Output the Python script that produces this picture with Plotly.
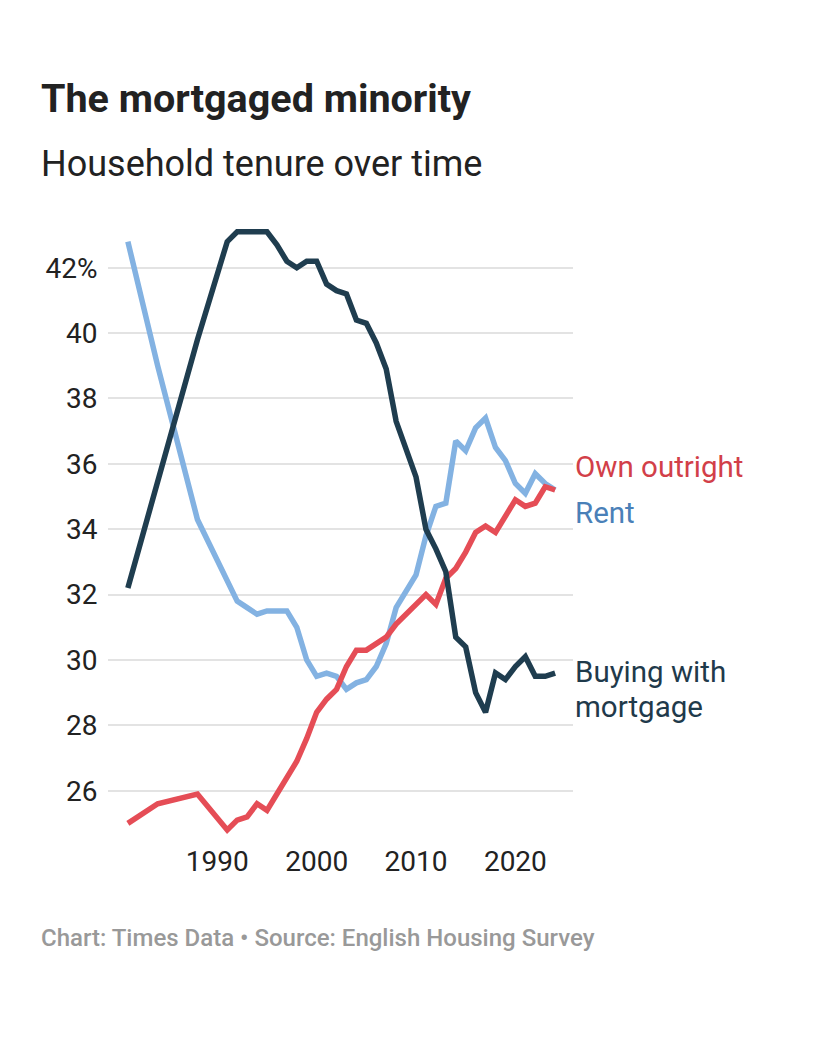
import plotly.graph_objects as go

years = [1981, 1984, 1988, 1991, 1992, 1993, 1994, 1995, 1996, 1997, 1998, 1999,
         2000, 2001, 2002, 2003, 2004, 2005, 2006, 2007, 2008, 2009, 2010, 2011,
         2012, 2013, 2014, 2015, 2016, 2017, 2018, 2019, 2020, 2021, 2022, 2023, 2024]

mortgage = [32.2, 35.4, 39.8, 42.8, 43.1, 43.1, 43.1, 43.1, 42.7, 42.2, 42.0, 42.2,
            42.2, 41.5, 41.3, 41.2, 40.4, 40.3, 39.7, 38.9, 37.3, 36.5, 35.6, 34.0,
            33.4, 32.7, 30.7, 30.4, 29.0, 28.4, 29.6, 29.4, 29.8, 30.1, 29.5, 29.5, 29.6]

outright = [25.0, 25.6, 25.9, 24.8, 25.1, 25.2, 25.6, 25.4, 25.9, 26.4, 26.9, 27.6,
            28.4, 28.8, 29.1, 29.8, 30.3, 30.3, 30.5, 30.7, 31.1, 31.4, 31.7, 32.0,
            31.7, 32.5, 32.8, 33.3, 33.9, 34.1, 33.9, 34.4, 34.9, 34.7, 34.8, 35.3, 35.2]

rent = [42.8, 39.0, 34.3, 32.4, 31.8, 31.6, 31.4, 31.5, 31.5, 31.5, 31.0, 30.0,
        29.5, 29.6, 29.5, 29.1, 29.3, 29.4, 29.8, 30.5, 31.6, 32.1, 32.6, 33.8,
        34.7, 34.8, 36.7, 36.4, 37.1, 37.4, 36.5, 36.1, 35.4, 35.1, 35.7, 35.4, 35.2]

y_ticks = [26, 28, 30, 32, 34, 36, 38, 40, 42]
y_ticktext = ["26", "28", "30", "32", "34", "36", "38", "40", "42%"]
x_ticks = [1990, 2000, 2010, 2020]
x_ticktext = ["1990", "2000", "2010", "2020"]

title = "The mortgaged minority"
subtitle = "Household tenure over time"
footer = "Chart: Times Data \u2022 Source: English Housing Survey"

C_RENT = "#83b2e2"
C_OWN = "#e54d56"
C_MORT = "#1f3d4f"

W, H = 840, 1040
OFF = 8  # page body margin offset
L, R, T, B = 108 - OFF, 573 - OFF, 222 - OFF, 843 - OFF


def px_x(px):
    return (px - OFF - L) / (R - L)


def px_y(py):
    return (B - (py - OFF)) / (B - T)


fig = go.Figure()
fig.add_trace(go.Scatter(x=years, y=rent, mode="lines", name="Rent",
                         line=dict(color=C_RENT, width=5.5), hoverinfo="skip"))
fig.add_trace(go.Scatter(x=years, y=outright, mode="lines", name="Own outright",
                         line=dict(color=C_OWN, width=5.5), hoverinfo="skip"))
fig.add_trace(go.Scatter(x=years, y=mortgage, mode="lines", name="Buying with mortgage",
                         line=dict(color=C_MORT, width=5.5), hoverinfo="skip"))

font_family = "Roboto"
LBL = 29.5
annotations = [
    dict(text=title, x=px_x(39), y=px_y(98), xanchor="left", yanchor="middle",
         font=dict(family=font_family, size=39.5, color="#222222", weight="bold")),
    dict(text=subtitle, x=px_x(39), y=px_y(164), xanchor="left", yanchor="middle",
         font=dict(family=font_family, size=36, color="#222222")),
    dict(text=footer, x=px_x(39), y=px_y(938), xanchor="left", yanchor="middle",
         font=dict(family=font_family, size=24, color="#999999", weight=500)),
    dict(text="Own outright", x=px_x(573), y=px_y(467), xanchor="left", yanchor="middle",
         font=dict(family=font_family, size=LBL, color="#d23f49")),
    dict(text="Rent", x=px_x(573), y=px_y(513), xanchor="left", yanchor="middle",
         font=dict(family=font_family, size=LBL, color="#4a80b8")),
    dict(text="Buying with", x=px_x(573), y=px_y(672), xanchor="left", yanchor="middle",
         font=dict(family=font_family, size=LBL, color="#1f3a4b")),
    dict(text="mortgage", x=px_x(573), y=px_y(707), xanchor="left", yanchor="middle",
         font=dict(family=font_family, size=LBL, color="#1f3a4b")),
]
for a in annotations:
    a.update(xref="paper", yref="paper", showarrow=False)

fig.update_layout(
    width=W, height=H,
    margin=dict(l=L, r=W - R, t=T, b=H - B, pad=0),
    paper_bgcolor="white", plot_bgcolor="white",
    showlegend=False,
    annotations=annotations,
    xaxis=dict(range=[1979.0, 2025.8], tickvals=x_ticks, ticktext=x_ticktext,
               showgrid=False, zeroline=False, showline=False,
               ticks="", ticklabelstandoff=-1,
               tickfont=dict(family=font_family, size=28, color="#222222"),
               fixedrange=True),
    yaxis=dict(range=[24.4, 43.4], tickvals=y_ticks, ticktext=y_ticktext,
               showgrid=True, gridcolor="#e3e3e3", gridwidth=2,
               zeroline=False, showline=False,
               ticks="outside", ticklen=4, tickcolor="rgba(0,0,0,0)",
               tickfont=dict(family=font_family, size=28, color="#222222"),
               fixedrange=True),
)

fig.write_html("out.html")
